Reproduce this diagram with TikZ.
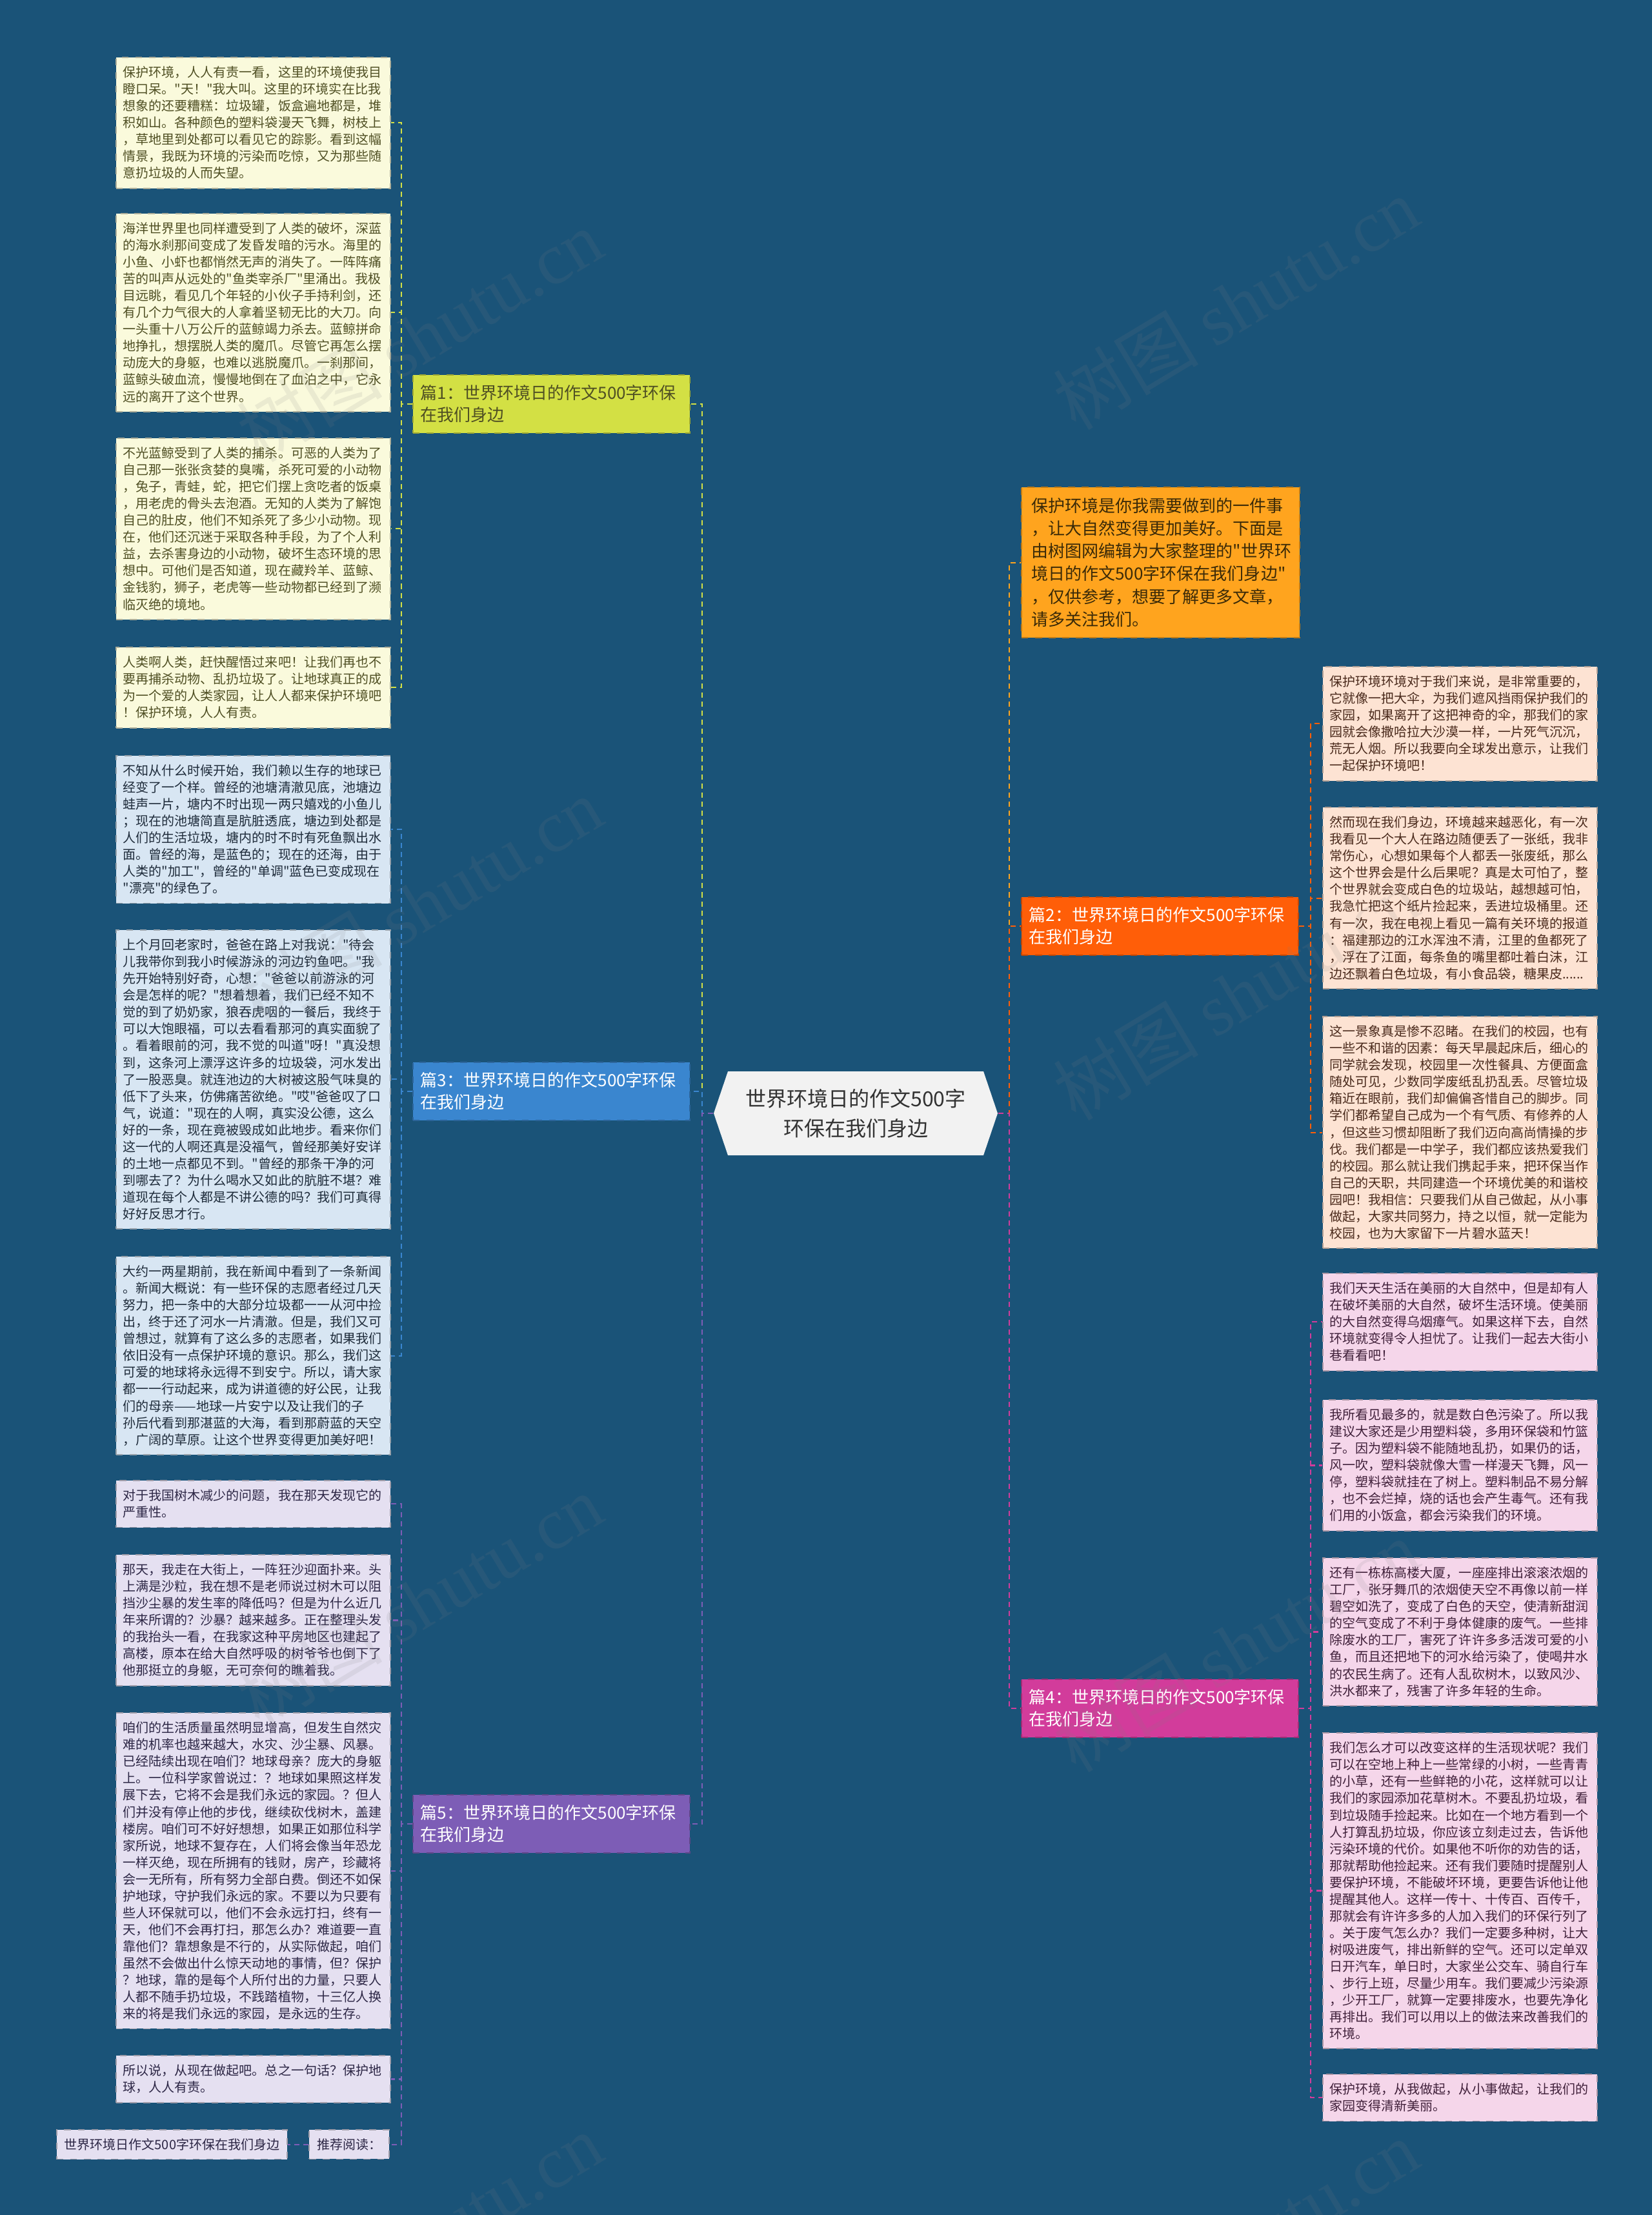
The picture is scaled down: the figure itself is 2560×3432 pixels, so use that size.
\documentclass[tikz,border=0pt]{standalone}
\usepackage{fontspec}
\setmainfont{Noto Sans CJK SC}[Ligatures=TeXOff]
\newfontfamily\wmfont{Liberation Serif}
\usetikzlibrary{positioning}

\definecolor{bgblue}{HTML}{1A5378}
\definecolor{hubfill}{HTML}{F2F2F2}
\definecolor{limeA}{HTML}{D3E044}
\definecolor{blueA}{HTML}{3A86CF}
\definecolor{purpA}{HTML}{7D5DB6}
\definecolor{orngA}{HTML}{FFA41E}
\definecolor{redA}{HTML}{FF5E08}
\definecolor{magA}{HTML}{D23C9B}
\definecolor{limeL}{HTML}{FAFADC}
\definecolor{blueL}{HTML}{D8E6F3}
\definecolor{purpL}{HTML}{E5E0F1}
\definecolor{redL}{HTML}{FDE3D3}
\definecolor{magL}{HTML}{F5D6EA}
\definecolor{limeT}{HTML}{4F4F23}
\definecolor{blueT}{HTML}{1E2B3A}
\definecolor{purpT}{HTML}{2C2645}
\definecolor{redT}{HTML}{4A2A1C}
\definecolor{magT}{HTML}{40203A}
\definecolor{introT}{HTML}{3A2A08}

\tikzset{
  link/.style={line width=0.6pt, dash pattern=on 2.3pt off 1.7pt},
  leaf/.style={dashed, line width=0.5pt, text width=4.03cm, inner xsep=0.11cm,
    inner ysep=0.14cm, align=left, anchor=north west,
    font=\fontsize{5.69pt}{7.40pt}\selectfont},
  leafA/.style={leaf, fill=limeL, draw=limeL!70!black, text=limeT},
  leafB/.style={leaf, fill=blueL, draw=blueL!70!black, text=blueT},
  leafC/.style={leaf, fill=purpL, draw=purpL!70!black, text=purpT},
  leafD/.style={leaf, fill=redL, draw=redL!70!black, text=redT},
  leafE/.style={leaf, fill=magL, draw=magL!70!black, text=magT},
  tagbox/.style={dashed, line width=0.5pt, fill=purpL, draw=purpL!70!black,
    text=purpT, inner xsep=0.12cm, inner ysep=0.135cm,
    font=\fontsize{5.69pt}{7.40pt}\selectfont},
  branch/.style={dashed, line width=0.5pt, text width=4.05cm, inner xsep=0.12cm,
    inner ysep=0.16cm, align=left, anchor=north west,
    font=\fontsize{7.40pt}{9.67pt}\selectfont},
  hub/.style={minimum width=4.4cm, minimum height=1.3cm, align=center,
    text=black!80, font=\fontsize{9.10pt}{13.09pt}\selectfont},
  wmark/.style={rotate=31, text=gray, opacity=0.13,
    font=\fontsize{32pt}{36pt}\selectfont}
}

\begin{document}
\begin{tikzpicture}[x=0.01cm,y=-0.01cm]
\useasboundingbox (0,0) rectangle (2560,3432);
\fill[bgblue] (0,0) rectangle (2560,3432);

% trunk columns
\coordinate (lt) at (1088,0);
\coordinate (rt) at (1564,0);
\coordinate (ls) at (622,0);
\coordinate (rs) at (2031,0);

% centre
\fill[hubfill] (1128,1660) -- (1524,1660) -- (1546,1725) -- (1524,1790)
  -- (1128,1790) -- (1106,1725) -- cycle;
\node[hub] (c) at (1326,1725) {世界环境日的作文500字\\环保在我们身边};

% branches
\node[branch, fill=limeA, draw=limeA!75!black, text=limeT] (p1) at (639,580)
  {篇1：世界环境日的作文500字环保\\在我们身边};
\node[branch, fill=blueA, draw=blueA!75!black, text=white] (p3) at (639,1645)
  {篇3：世界环境日的作文500字环保\\在我们身边};
\node[branch, fill=purpA, draw=purpA!75!black, text=white] (p5) at (639,2780)
  {篇5：世界环境日的作文500字环保\\在我们身边};
\node[branch, fill=orngA, draw=orngA!75!black, text=introT, text width=4.0cm,
  inner xsep=0.155cm, inner ysep=0.17cm, font=\fontsize{7.40pt}{9.96pt}\selectfont] (intro) at (1582,754)
  {保护环境是你我需要做到的一件事\\，让大自然变得更加美好。下面是\\由树图网编辑为大家整理的"世界环\\境日的作文500字环保在我们身边"\\，仅供参考，想要了解更多文章，\\请多关注我们。};
\node[branch, fill=redA, draw=redA!75!black, text=white] (p2) at (1582,1389)
  {篇2：世界环境日的作文500字环保\\在我们身边};
\node[branch, fill=magA, draw=magA!75!black, text=white] (p4) at (1582,2601)
  {篇4：世界环境日的作文500字环保\\在我们身边};

% 篇1 leaves
\node[leafA] (l1) at (179,88) {保护环境，人人有责一看，这里的环境使我目\\瞪口呆。"天！"我大叫。这里的环境实在比我\\想象的还要糟糕：垃圾罐，饭盒遍地都是，堆\\积如山。各种颜色的塑料袋漫天飞舞，树枝上\\，草地里到处都可以看见它的踪影。看到这幅\\情景，我既为环境的污染而吃惊，又为那些随\\意扔垃圾的人而失望。};
\node[leafA] (l2) at (179,330) {海洋世界里也同样遭受到了人类的破坏，深蓝\\的海水刹那间变成了发昏发暗的污水。海里的\\小鱼、小虾也都悄然无声的消失了。一阵阵痛\\苦的叫声从远处的"鱼类宰杀厂"里涌出。我极\\目远眺，看见几个年轻的小伙子手持利剑，还\\有几个力气很大的人拿着坚韧无比的大刀。向\\一头重十八万公斤的蓝鲸竭力杀去。蓝鲸拼命\\地挣扎，想摆脱人类的魔爪。尽管它再怎么摆\\动庞大的身躯，也难以逃脱魔爪。一刹那间，\\蓝鲸头破血流，慢慢地倒在了血泊之中，它永\\远的离开了这个世界。};
\node[leafA] (l3) at (179,678) {不光蓝鲸受到了人类的捕杀。可恶的人类为了\\自己那一张张贪婪的臭嘴，杀死可爱的小动物\\，兔子，青蛙，蛇，把它们摆上贪吃者的饭桌\\，用老虎的骨头去泡酒。无知的人类为了解饱\\自己的肚皮，他们不知杀死了多少小动物。现\\在，他们还沉迷于采取各种手段，为了个人利\\益，去杀害身边的小动物，破坏生态环境的思\\想中。可他们是否知道，现在藏羚羊、蓝鲸、\\金钱豹，狮子，老虎等一些动物都已经到了濒\\临灭绝的境地。};
\node[leafA] (l4) at (179,1002) {人类啊人类，赶快醒悟过来吧！让我们再也不\\要再捕杀动物、乱扔垃圾了。让地球真正的成\\为一个爱的人类家园，让人人都来保护环境吧\\！保护环境，人人有责。};

% 篇3 leaves
\node[leafB] (l5) at (179,1170) {不知从什么时候开始，我们赖以生存的地球已\\经变了一个样。曾经的池塘清澈见底，池塘边\\蛙声一片，塘内不时出现一两只嬉戏的小鱼儿\\；现在的池塘简直是肮脏透底，塘边到处都是\\人们的生活垃圾，塘内的时不时有死鱼飘出水\\面。曾经的海，是蓝色的；现在的还海，由于\\人类的"加工"，曾经的"单调"蓝色已变成现在\\"漂亮"的绿色了。};
\node[leafB] (l6) at (179,1440) {上个月回老家时，爸爸在路上对我说："待会\\儿我带你到我小时候游泳的河边钓鱼吧。"我\\先开始特别好奇，心想："爸爸以前游泳的河\\会是怎样的呢？"想着想着，我们已经不知不\\觉的到了奶奶家，狼吞虎咽的一餐后，我终于\\可以大饱眼福，可以去看看那河的真实面貌了\\。看着眼前的河，我不觉的叫道"呀！"真没想\\到，这条河上漂浮这许多的垃圾袋，河水发出\\了一股恶臭。就连池边的大树被这股气味臭的\\低下了头来，仿佛痛苦欲绝。"哎"爸爸叹了口\\气，说道："现在的人啊，真实没公德，这么\\好的一条，现在竟被毁成如此地步。看来你们\\这一代的人啊还真是没福气，曾经那美好安详\\的土地一点都见不到。"曾经的那条干净的河\\到哪去了？为什么喝水又如此的肮脏不堪？难\\道现在每个人都是不讲公德的吗？我们可真得\\好好反思才行。};
\node[leafB] (l7) at (179,1946) {大约一两星期前，我在新闻中看到了一条新闻\\。新闻大概说：有一些环保的志愿者经过几天\\努力，把一条中的大部分垃圾都一一从河中捡\\出，终于还了河水一片清澈。但是，我们又可\\曾想过，就算有了这么多的志愿者，如果我们\\依旧没有一点保护环境的意识。那么，我们这\\可爱的地球将永远得不到安宁。所以，请大家\\都一一行动起来，成为讲道德的好公民，让我\\们的母亲——地球一片安宁以及让我们的子\\孙后代看到那湛蓝的大海，看到那蔚蓝的天空\\，广阔的草原。让这个世界变得更加美好吧！};

% 篇5 leaves
\node[leafC] (l8) at (179,2293) {对于我国树木减少的问题，我在那天发现它的\\严重性。};
\node[leafC] (l9) at (179,2408) {那天，我走在大街上，一阵狂沙迎面扑来。头\\上满是沙粒，我在想不是老师说过树木可以阻\\挡沙尘暴的发生率的降低吗？但是为什么近几\\年来所谓的？沙暴？越来越多。正在整理头发\\的我抬头一看，在我家这种平房地区也建起了\\高楼，原本在给大自然呼吸的树爷爷也倒下了\\他那挺立的身躯，无可奈何的瞧着我。};
\node[leafC] (l10) at (179,2653) {咱们的生活质量虽然明显增高，但发生自然灾\\难的机率也越来越大，水灾、沙尘暴、风暴。\\已经陆续出现在咱们？地球母亲？庞大的身躯\\上。一位科学家曾说过：？地球如果照这样发\\展下去，它将不会是我们永远的家园。？但人\\们并没有停止他的步伐，继续砍伐树木，盖建\\楼房。咱们可不好好想想，如果正如那位科学\\家所说，地球不复存在，人们将会像当年恐龙\\一样灭绝，现在所拥有的钱财，房产，珍藏将\\会一无所有，所有努力全部白费。倒还不如保\\护地球，守护我们永远的家。不要以为只要有\\些人环保就可以，他们不会永远打扫，终有一\\天，他们不会再打扫，那怎么办？难道要一直\\靠他们？靠想象是不行的，从实际做起，咱们\\虽然不会做出什么惊天动地的事情，但？保护\\？地球，靠的是每个人所付出的力量，只要人\\人都不随手扔垃圾，不践踏植物，十三亿人换\\来的将是我们永远的家园，是永远的生存。};
\node[leafC] (l11) at (179,3184) {所以说，从现在做起吧。总之一句话？保护地\\球，人人有责。};
\node[tagbox, anchor=north east] (rec) at (604,3299) {推荐阅读：};
\node[tagbox, left=0.32cm of rec] (rel) {世界环境日作文500字环保在我们身边};

% 篇2 leaves
\node[leafD] (r1) at (2049,1032) {保护环境环境对于我们来说，是非常重要的，\\它就像一把大伞，为我们遮风挡雨保护我们的\\家园，如果离开了这把神奇的伞，那我们的家\\园就会像撒哈拉大沙漠一样，一片死气沉沉，\\荒无人烟。所以我要向全球发出意示，让我们\\一起保护环境吧！};
\node[leafD] (r2) at (2049,1250) {然而现在我们身边，环境越来越恶化，有一次\\我看见一个大人在路边随便丢了一张纸，我非\\常伤心，心想如果每个人都丢一张废纸，那么\\这个世界会是什么后果呢？真是太可怕了，整\\个世界就会变成白色的垃圾站，越想越可怕，\\我急忙把这个纸片捡起来，丢进垃圾桶里。还\\有一次，我在电视上看见一篇有关环境的报道\\：福建那边的江水浑浊不清，江里的鱼都死了\\，浮在了江面，每条鱼的嘴里都吐着白沫，江\\边还飘着白色垃圾，有小食品袋，糖果皮......};
\node[leafD] (r3) at (2049,1574) {这一景象真是惨不忍睹。在我们的校园，也有\\一些不和谐的因素：每天早晨起床后，细心的\\同学就会发现，校园里一次性餐具、方便面盒\\随处可见，少数同学废纸乱扔乱丢。尽管垃圾\\箱近在眼前，我们却偏偏吝惜自己的脚步。同\\学们都希望自己成为一个有气质、有修养的人\\，但这些习惯却阻断了我们迈向高尚情操的步\\伐。我们都是一中学子，我们都应该热爱我们\\的校园。那么就让我们携起手来，把环保当作\\自己的天职，共同建造一个环境优美的和谐校\\园吧！我相信：只要我们从自己做起，从小事\\做起，大家共同努力，持之以恒，就一定能为\\校园，也为大家留下一片碧水蓝天！};

% 篇4 leaves
\node[leafE] (r4) at (2049,1972) {我们天天生活在美丽的大自然中，但是却有人\\在破坏美丽的大自然，破坏生活环境。使美丽\\的大自然变得乌烟瘴气。如果这样下去，自然\\环境就变得令人担忧了。让我们一起去大街小\\巷看看吧！};
\node[leafE] (r5) at (2049,2168) {我所看见最多的，就是数白色污染了。所以我\\建议大家还是少用塑料袋，多用环保袋和竹篮\\子。因为塑料袋不能随地乱扔，如果仍的话，\\风一吹，塑料袋就像大雪一样漫天飞舞，风一\\停，塑料袋就挂在了树上。塑料制品不易分解\\，也不会烂掉，烧的话也会产生毒气。还有我\\们用的小饭盒，都会污染我们的环境。};
\node[leafE] (r6) at (2049,2413) {还有一栋栋高楼大厦，一座座排出滚滚浓烟的\\工厂，张牙舞爪的浓烟使天空不再像以前一样\\碧空如洗了，变成了白色的天空，使清新甜润\\的空气变成了不利于身体健康的废气。一些排\\除废水的工厂，害死了许许多多活泼可爱的小\\鱼，而且还把地下的河水给污染了，使喝井水\\的农民生病了。还有人乱砍树木，以致风沙、\\洪水都来了，残害了许多年轻的生命。};
\node[leafE] (r7) at (2049,2684) {我们怎么才可以改变这样的生活现状呢？我们\\可以在空地上种上一些常绿的小树，一些青青\\的小草，还有一些鲜艳的小花，这样就可以让\\我们的家园添加花草树木。不要乱扔垃圾，看\\到垃圾随手捡起来。比如在一个地方看到一个\\人打算乱扔垃圾，你应该立刻走过去，告诉他\\污染环境的代价。如果他不听你的劝告的话，\\那就帮助他捡起来。还有我们要随时提醒别人\\要保护环境，不能破坏环境，更要告诉他让他\\提醒其他人。这样一传十、十传百、百传千，\\那就会有许许多多的人加入我们的环保行列了\\。关于废气怎么办？我们一定要多种树，让大\\树吸进废气，排出新鲜的空气。还可以定单双\\日开汽车，单日时，大家坐公交车、骑自行车\\、步行上班，尽量少用车。我们要减少污染源\\，少开工厂，就算一定要排废水，也要先净化\\再排出。我们可以用以上的做法来改善我们的\\环境。};
\node[leafE] (r8) at (2049,3213) {保护环境，从我做起，从小事做起，让我们的\\家园变得清新美丽。};

% centre to branches
\draw[link, draw=limeA] (c.west) -- (c.west -| lt) |- (p1.east);
\draw[link, draw=blueA] (c.west) -- (c.west -| lt) |- (p3.east);
\draw[link, draw=purpA] (c.west) -- (c.west -| lt) |- (p5.east);
\draw[link, draw=orngA] (c.east) -- (c.east -| rt) |- (intro.west);
\draw[link, draw=redA] (c.east) -- (c.east -| rt) |- (p2.west);
\draw[link, draw=magA] (c.east) -- (c.east -| rt) |- (p4.west);

% branches to leaves
\draw[link, draw=limeA] (p1.west) -- (p1.west -| ls) |- (l1.east);
\draw[link, draw=limeA] (p1.west) -- (p1.west -| ls) |- (l2.east);
\draw[link, draw=limeA] (p1.west) -- (p1.west -| ls) |- (l3.east);
\draw[link, draw=limeA] (p1.west) -- (p1.west -| ls) |- (l4.east);
\draw[link, draw=blueA] (p3.west) -- (p3.west -| ls) |- (l5.east);
\draw[link, draw=blueA] (p3.west) -- (p3.west -| ls) |- (l6.east);
\draw[link, draw=blueA] (p3.west) -- (p3.west -| ls) |- (l7.east);
\draw[link, draw=purpA] (p5.west) -- (p5.west -| ls) |- (l8.east);
\draw[link, draw=purpA] (p5.west) -- (p5.west -| ls) |- (l9.east);
\draw[link, draw=purpA] (p5.west) -- (p5.west -| ls) |- (l10.east);
\draw[link, draw=purpA] (p5.west) -- (p5.west -| ls) |- (l11.east);
\draw[link, draw=purpA] (p5.west) -- (p5.west -| ls) |- (rec.east);
\draw[link, draw=purpA] (rec.west) -- (rel.east);
\draw[link, draw=redA] (p2.east) -- (p2.east -| rs) |- (r1.west);
\draw[link, draw=redA] (p2.east) -- (p2.east -| rs) |- (r2.west);
\draw[link, draw=redA] (p2.east) -- (p2.east -| rs) |- (r3.west);
\draw[link, draw=magA] (p4.east) -- (p4.east -| rs) |- (r4.west);
\draw[link, draw=magA] (p4.east) -- (p4.east -| rs) |- (r5.west);
\draw[link, draw=magA] (p4.east) -- (p4.east -| rs) |- (r6.west);
\draw[link, draw=magA] (p4.east) -- (p4.east -| rs) |- (r7.west);
\draw[link, draw=magA] (p4.east) -- (p4.east -| rs) |- (r8.west);

% watermarks
\node[wmark] (w1) at (650,520) {树图 {\wmfont shutu.cn}};
\node[wmark] (w2) at (1915,470) {树图 {\wmfont shutu.cn}};
\node[wmark] (w3) at (650,1400) {树图 {\wmfont shutu.cn}};
\node[wmark] (w4) at (1915,1540) {树图 {\wmfont shutu.cn}};
\node[wmark] (w5) at (650,2480) {树图 {\wmfont shutu.cn}};
\node[wmark] (w6) at (1915,2550) {树图 {\wmfont shutu.cn}};
\node[wmark] (w7) at (650,3470) {树图 {\wmfont shutu.cn}};
\node[wmark] (w8) at (1915,3480) {树图 {\wmfont shutu.cn}};
\end{tikzpicture}
\end{document}
